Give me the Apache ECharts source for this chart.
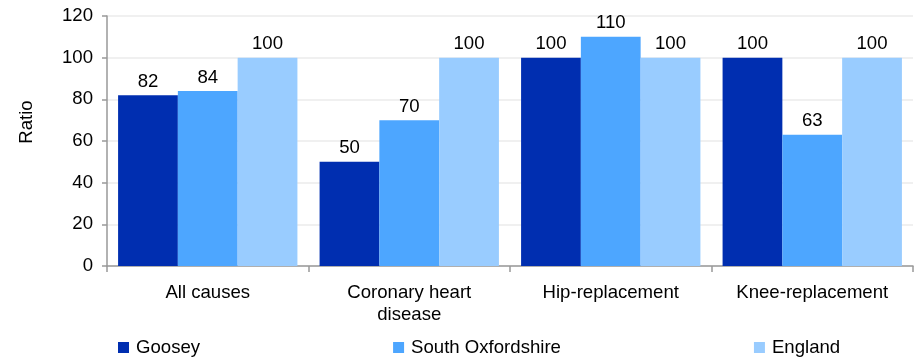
<!DOCTYPE html>
<html>
<head>
<meta charset="utf-8">
<script src="https://cdn.jsdelivr.net/npm/echarts@6/dist/echarts.min.js"></script>
<style>
  html, body { margin: 0; padding: 0; background: #fff; }
  #chart { width: 915px; height: 360px; }
</style>
</head>
<body>
<div id="chart"></div>
<script>
// Standardised ratios by condition
const categories = ['All causes', 'Coronary heart\ndisease', 'Hip-replacement', 'Knee-replacement'];
const seriesNames = ['Goosey', 'South Oxfordshire', 'England'];
const goosey = [82, 50, 100, 100];
const southOxfordshire = [84, 70, 110, 63];
const england = [100, 100, 100, 100];
const yTicks = { min: 0, max: 120, interval: 20 };
const yTitle = 'Ratio';

const colors = ['#002eb0', '#4da6ff', '#99ccff'];
const font = 'Liberation Sans, Arial, sans-serif';
const fs = 18.6;

function barSeries(name, data, color) {
  return {
    name: name,
    type: 'bar',
    data: data,
    barGap: '0%',
    barCategoryGap: '11%',
    itemStyle: { color: color },
    label: {
      show: true,
      position: 'top',
      distance: 4,
      color: '#000',
      fontFamily: font,
      fontSize: fs
    }
  };
}

const chart = echarts.init(document.getElementById('chart'), null, { renderer: 'canvas' });
chart.setOption({
  animation: false,
  color: colors,
  grid: { left: 107, right: 2, top: 16, bottom: 94 },
  graphic: [{
    type: 'text',
    x: 27,
    y: 122,
    rotation: Math.PI / 2,
    style: {
      text: yTitle,
      fill: '#000',
      font: fs + 'px ' + font,
      align: 'center',
      verticalAlign: 'middle'
    }
  }],
  legend: {
    top: 333,
    left: 113,
    itemGap: 193,
    itemWidth: 11,
    itemHeight: 11,
    icon: 'rect',
    textStyle: { fontFamily: font, fontSize: fs, color: '#000', padding: [0, 0, 0, 2] },
    data: seriesNames
  },
  xAxis: {
    type: 'category',
    data: categories,
    axisLine: { lineStyle: { color: '#999', width: 1.5 } },
    axisTick: { show: true, length: 6, lineStyle: { color: '#999', width: 1.5 } },
    axisLabel: {
      color: '#000',
      fontFamily: font,
      fontSize: fs,
      lineHeight: 22,
      margin: 16,
      interval: 0
    }
  },
  yAxis: {
    type: 'value',
    min: yTicks.min,
    max: yTicks.max,
    interval: yTicks.interval,
    axisLine: { show: true, lineStyle: { color: '#999', width: 1.5 } },
    axisTick: { show: true, length: 5, lineStyle: { color: '#999', width: 1.5 } },
    axisLabel: { color: '#000', fontFamily: font, fontSize: fs, margin: 14 },
    splitLine: { show: true, lineStyle: { color: '#ebebeb', width: 1.5 } }
  },
  series: [
    barSeries(seriesNames[0], goosey, colors[0]),
    barSeries(seriesNames[1], southOxfordshire, colors[1]),
    barSeries(seriesNames[2], england, colors[2])
  ]
});
</script>
</body>
</html>
